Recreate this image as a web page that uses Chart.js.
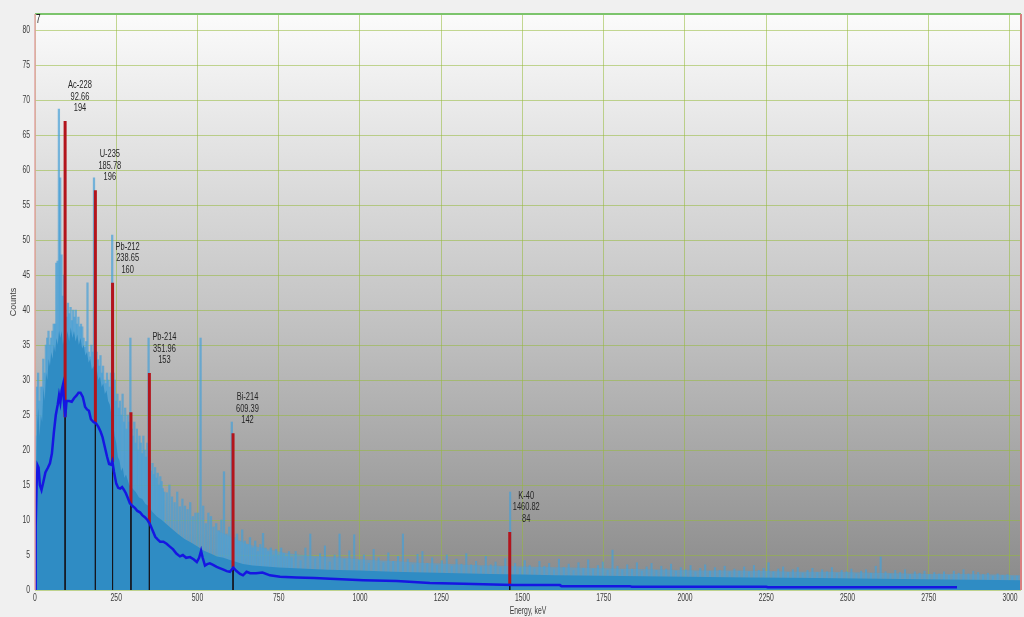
<!DOCTYPE html>
<html>
<head>
<meta charset="utf-8">
<script src="https://cdn.jsdelivr.net/npm/chart.js@4.4.0/dist/chart.umd.min.js"></script>
<style>
  html, body { margin: 0; padding: 0; background: #f0f0f0; }
  #wrap { width: 1024px; height: 617px; position: relative; }
</style>
</head>
<body>
<div id="wrap"><canvas id="spectrum"></canvas></div>
<script>
// --- spectrum channels (keV) and counts ---
const lowE = [0,4,8,12,16,20,24,28,32,36,40,44,48,52,56,60,64,68,72,76,80,84,88,92,96,100,104,108,112,116,120,124,128,132,136,140,144,148,152,156,160,164,168,172,176,180,184,188,192,196,200,204,208,212,216,220,224,228,232,236,240,244,248,252,256,260,264,268,272,276,280,284,288,292,296,300,304,308,312,316,320,324,328,332,336,340,344,348,352,356,360,364,368,372,376,380,384,388,392,396];
const lowCounts = [3,22,29,31,27,29,29,33,31,35, 36,37,35,36,37,38,38,46.7,47,68.7, 58.9,47.9,42,45,40,39,41,39.5,40.4,38.5, 40,39,40,38,39,37.6,38,37.6,36,34.7, 35.5,43.9,34,33.3,35,34,58.9,33,34,32.9, 32,33.5,31,32,30,29.5,31,30,29,31, 50.7,31,30,27,28,26,27,25,28,24, 26,23,25,24,36,23,22,24,21,23, 20,22,21,19.5,22,20,19,21,36,18.5, 17,18.1,16.5,17.5,16,16.7,15,16.2,15.5,14.5];

const midE = [400,408,416,424,432,440,448,456,464,472,480,488,496,504,512,520,528,536,544,552,560,568,576,584,592,600,608,616,624,632,640,648,656,664,672,680,688,696,704,712,720,728,736,744,752,760,768,776,784,792];
const midCounts = [14,13.9,15,13.3,12.5,14,11.9,13,12,11.5, 12.5,10.5,11,11,36,12,9.5,11,10.5,9, 9.5,8.5,10,16.9,8,9,24,7.5,8,7, 8.6,7,6.5,7.5,6,7,5.5,6.5,8.1,6, 5.5,6,5,5.8,5,6,5.2,4.8,5.5,4.6];

const highE = [800,815,830,845,860,875,890,905,920,935,950,965,980,995,1010,1025,1040,1055,1070,1085,1100,1115,1130,1145,1160,1175,1190,1205,1220,1235,1250,1265,1280,1295,1310,1325,1340,1355,1370,1385,1400,1415,1430,1445,1460,1475,1490,1505,1520,1535,1550,1565,1580,1595,1610,1625,1640,1655,1670,1685,1700,1715,1730,1745,1760,1775,1790,1805,1820,1835,1850,1865,1880,1895,1910,1925,1940,1955,1970,1985,2000,2015,2030,2045,2060,2075,2090,2105,2120,2135,2150,2165,2180,2195,2210,2225,2240,2255,2270,2285,2300,2315,2330,2345,2360,2375,2390,2405,2420,2435,2450,2465,2480,2495,2510,2525,2540,2555,2570,2585,2600,2615,2630,2645,2660,2675,2690,2705,2720,2735,2750,2765,2780,2795,2810,2825,2840,2855,2870,2885,2900,2915,2930,2945,2960,2975,2990,3005,3020];
const highCounts = [5.5,4.2,6.0,8.0,4.5,5.2,6.3,4.0,5.0,8.0, 4.4,5.6,7.9,4.2,5.0,3.8,5.8,4.6,3.9,5.3, 4.1,4.8,8.0,4.4,3.6,5.1,5.5,3.8,4.6,3.5, 4.2,5.0,3.4,4.4,3.7,5.2,3.6,4.1,3.3,4.8, 3.6,4.0,3.2,4.5,14,3.8,3.1,4.2,3.5,3.0, 4.1,3.4,3.8,2.9,4.4,3.2,3.7,2.8,3.9,3.1, 4.3,3.0,3.5,4.0,2.8,5.7,3.4,2.9,3.6,3.0, 3.9,2.7,3.3,3.8,2.8,3.4,3.0,3.7,2.7,3.2, 2.9,3.5,2.6,3.1,3.6,2.7,3.2,2.8,3.4,2.6, 3.0,2.7,3.3,2.6,3.5,2.8,3.1,3.9,2.6,3.0, 3.3,2.5,2.9,3.2,2.4,2.8,3.1,2.5,2.9,2.6, 3.2,2.4,2.8,2.6,3.0,2.3,2.7,2.9,2.4,3.4, 4.7,2.6,2.3,2.8,2.5,2.9,2.2,2.6,2.4,2.7, 2.2,2.5,2.3,2.6,2.1,2.7,2.4,2.9,2.3,2.7, 2.5,2.2,2.4,2.0,2.3,2.1,2.2,1.9,2.0];

// dense low-level fuzz of channels at higher energies
const fuzzE = [560,600,640,680,720,760,800,850,900,950,1000,1060,1120,1180,1250,1320,1400,1480,1560,1650,1750,1850,1950,2050,2150,2250,2350,2450,2550,2650,2750,2850,2950,3034];
const fuzzCounts = [8.5,7.6,6.8,6.2,5.8,5.4,5.1,4.9,4.7,4.6,4.4,4.2,4.1,3.9,3.8,3.6,3.5,3.4,3.3,3.2,3.1,3.0,2.9,2.8,2.8,2.7,2.6,2.6,2.5,2.4,2.3,2.3,2.2,2.1];

// solid part of the spectrum (where nearly every channel reaches)
const baseE = [0,2,4,7,10,14,18,22,26,30,34,38,42,46,50,54,58,62,66,70,74,78,82,86,90,95,100,105,110,115,120,125,130,135,140,145,150,155,160,165,170,175,180,185,190,195,200,205,210,215,220,225,230,235,240,245,250,255,260,265,270,275,280,290,300,310,320,330,340,350,360,375,390,405,420,440,460,480,500,520,540,560,580,600,620,640,670,700,750,800,850,900,1000,1100,1200,1300,1400,1500,1600,1800,2000,2200,2400,2600,2800,3034];
const baseCounts = [0,8,18,24,26, 22,25,24,29,27, 31,30,33,32,34, 33,35,34,36,35, 37,36,37,35,36, 35,37,35.5,37.5,36, 37,35.5,36.5,35,36, 34.5,35,33.5,34,32.5, 33,31.5,32,30.5,31.5, 30,30.5,29,29.5,28, 28.5,27,26.5,25,24, 22,21,19,18.5,17, 17.5,16,16.5,15,14.5, 14,13.2,13,12.3,12, 11.2,10.5,10,9.4,8.8, 8,7.3,6.8,6.2,5.6, 5.2,4.8,4.6,4.3,4, 3.7,3.5,3.4,3.2,3.1, 3,2.9,2.8,2.6,2.5, 2.4,2.3,2.2,2.1,2, 1.9,1.8,1.7,1.6,1.5, 1.4];

// smoothed continuum (dark blue)
const smoothE = [0,2,5,8,11,15,20,26,32,40,46,52,58,64,70,74,78,82,86,89,93,97,105,113,120,128,134,140,147,154,160,166,172,180,188,195,202,208,215,222,228,234,238,243,250,256,262,268,274,280,286,292,300,308,315,323,330,338,346,354,362,370,378,385,395,405,415,425,435,446,455,465,477,488,498,505,511,516,523,530,538,548,559,570,580,590,600,610,620,631,640,651,662,680,700,723,754,805,860,908,1010,1113,1215,1318,1471,1615,1620,1831,1836,2250,2255,2837];
const smoothCounts = [0,9,15,17.8,17.5,15,14.3,15.5,16.8,17.5,18.1,19.5,22.5,25,26.5,27.8,26.8,28.5,29.3,27,24.7,27,27,26.9,27.4,27.8,28.2,28.2,27.6,26.2,25.8,25.6,24.4,24,23.8,23.3,22.6,21.8,20.4,19,18,17.9,18.4,16.9,15.2,14.6,14.5,14.7,14.3,13.8,13.1,12.4,12,11.7,11.3,11.1,10.7,10.4,10,9.4,8.5,7.6,7.2,6.9,6.9,6.6,6.2,5.8,5.2,4.8,5,4.6,4.7,4.4,4,4.6,5.6,4.6,3.5,3.7,3.8,3.6,3.3,3.1,2.9,2.7,2.6,3.2,2.7,2.3,2.1,2.6,2.4,2.4,2.5,2.1,1.9,1.8,1.7,1.6,1.4,1.3,1,0.9,0.7,0.7,0.55,0.55,0.45,0.45,0.4,0.4];

// identified peaks
const peakEnergy = [92.66, 185.78, 238.65, 295.22, 351.96, 609.39, 1460.82];
const peakTop = [67, 57.1, 43.9, 25.4, 31, 22.4, 8.3];
const peakBase = [24.7, 23.9, 18.3, 12.3, 9.5, 3.2, 0.7];
const peakNuclide = ['Ac-228', 'U-235', 'Pb-212', null, 'Pb-214', 'Bi-214', 'K-40'];
const peakLabelEnergy = ['92.66', '185.78', '238.65', null, '351.96', '609.39', '1460.82'];
const peakChannel = ['194', '196', '160', null, '153', '142', '84'];

const xTicks = [0,250,500,750,1000,1250,1500,1750,2000,2250,2500,2750,3000];
const yTicks = [0,5,10,15,20,25,30,35,40,45,50,55,60,65,70,75,80];

const FONT = '"Liberation Sans", Arial, sans-serif';
const SQUASH = 0.68;

const toPts = (xs, ys) => xs.map((x, i) => ({ x: x, y: ys[i] }));

function segmentPts(xs, y1, y2) {
    const pts = [];
    xs.forEach((x, i) => {
        pts.push({ x: x, y: y1[i] }, { x: x, y: y2[i] }, { x: x, y: null });
    });
    return pts;
}

function squashText(ctx, txt, x, y, align) {
    ctx.save();
    ctx.translate(x, y);
    ctx.scale(SQUASH, 1);
    ctx.textAlign = align;
    ctx.fillText(txt, 0, 0);
    ctx.restore();
}

// fondo degradado del área de trazado
const backdrop = {
    id: 'backdrop',
    beforeDraw(chart) {
        const { ctx, chartArea: a } = chart;
        ctx.save();
        ctx.fillStyle = '#f0f0f0';
        ctx.fillRect(0, 0, chart.width, chart.height);
        const g = ctx.createLinearGradient(0, a.top, 0, a.bottom);
        g.addColorStop(0, '#fbfbfb');
        g.addColorStop(0.5, '#c6c6c6');
        g.addColorStop(1, '#8a8a8a');
        ctx.fillStyle = g;
        ctx.fillRect(a.left, a.top, a.right - a.left, a.bottom - a.top);
        ctx.restore();
    }
};

// bordes, textos de ejes y etiquetas de picos
const overlay = {
    id: 'overlay',
    afterDraw(chart) {
        const { ctx, chartArea: a, scales } = chart;
        ctx.save();
        // frame
        ctx.lineWidth = 2;
        ctx.strokeStyle = '#7cc46c';
        ctx.beginPath(); ctx.moveTo(a.left, a.top); ctx.lineTo(a.right, a.top); ctx.stroke();
        ctx.strokeStyle = '#e2a4a4';
        ctx.lineWidth = 1.5;
        ctx.beginPath(); ctx.moveTo(a.left, a.top); ctx.lineTo(a.left, a.bottom); ctx.stroke();
        ctx.strokeStyle = '#d98080';
        ctx.lineWidth = 2;
        ctx.beginPath(); ctx.moveTo(a.right, a.top); ctx.lineTo(a.right, a.bottom); ctx.stroke();

        // tick labels
        ctx.fillStyle = '#3a3a3a';
        ctx.font = '10px ' + FONT;
        ctx.textBaseline = 'middle';
        scales.y.ticks.forEach(t => {
            squashText(ctx, String(t.value), a.left - 5, scales.y.getPixelForValue(t.value), 'right');
        });
        scales.x.ticks.forEach(t => {
            squashText(ctx, String(t.value), scales.x.getPixelForValue(t.value), a.bottom + 8, 'center');
        });

        // axis titles
        ctx.font = '10px ' + FONT;
        squashText(ctx, 'Energy, keV', (a.left + a.right) / 2, a.bottom + 21, 'center');
        ctx.save();
        ctx.translate(14, (a.top + a.bottom) / 2);
        ctx.rotate(-Math.PI / 2);
        ctx.textAlign = 'center';
        ctx.font = '9px ' + FONT;
        ctx.fillText('Counts', 0, 0);
        ctx.restore();

        ctx.font = '12px ' + FONT;
        ctx.fillStyle = '#222';
        squashText(ctx, '7', a.left + 1, a.top + 6, 'left');

        // peak labels
        ctx.font = '11px ' + FONT;
        ctx.fillStyle = '#262626';
        peakEnergy.forEach((e, i) => {
            if (!peakNuclide[i]) return;
            const lines = [peakNuclide[i], peakLabelEnergy[i], peakChannel[i]];
            const px = scales.x.getPixelForValue(e);
            const py = scales.y.getPixelForValue(peakTop[i]);
            const w = Math.max(...lines.map(l => ctx.measureText(l).width)) * SQUASH;
            const cx = px + 3 + w / 2;
            lines.forEach((l, j) => {
                squashText(ctx, l, cx, py - 13 - 11.5 * (2 - j), 'center');
            });
        });
        ctx.restore();
    }
};

const gridColor = 'rgba(150, 185, 60, 0.55)';
const spikeColor = 'rgba(70, 160, 215, 0.7)';

new Chart(document.getElementById('spectrum'), {
    type: 'bar',
    data: {
        datasets: [
            {
                type: 'line', label: 'Smoothed',
                data: toPts(smoothE, smoothCounts),
                borderColor: '#1616e2', borderWidth: 2.5,
                pointRadius: 0, tension: 0, order: 1
            },
            {
                type: 'line', label: 'Peaks',
                data: segmentPts(peakEnergy, peakTop, peakBase),
                borderColor: '#b3141c', borderWidth: 3,
                pointRadius: 0, order: 2
            },
            {
                type: 'line', label: 'Markers',
                data: segmentPts(peakEnergy, peakBase, peakEnergy.map(() => 0)),
                borderColor: '#16161e', borderWidth: 1,
                pointRadius: 0, order: 3
            },
            {
                type: 'line', label: 'Continuum',
                data: toPts(baseE, baseCounts),
                fill: 'origin', backgroundColor: '#2f8cc4',
                borderWidth: 0, pointRadius: 0, tension: 0, order: 4
            },
            {
                type: 'line', label: 'Fuzz',
                data: toPts(fuzzE, fuzzCounts),
                fill: 'origin', backgroundColor: 'rgba(75, 162, 215, 0.5)',
                borderWidth: 0, pointRadius: 0, tension: 0, order: 5
            },
            {
                type: 'bar', label: 'Spectrum',
                data: toPts(lowE.concat(midE), lowCounts.concat(midCounts)),
                backgroundColor: spikeColor,
                barThickness: 1.6, order: 6
            },
            {
                type: 'bar', label: 'Spectrum high',
                data: toPts(highE, highCounts),
                backgroundColor: spikeColor,
                barThickness: 1.4, order: 7
            }
        ]
    },
    options: {
        responsive: true,
        maintainAspectRatio: false,
        animation: false,
        devicePixelRatio: 1,
        layout: { padding: { left: 0, right: 3, top: 14, bottom: 0 } },
        plugins: { legend: { display: false }, tooltip: { enabled: false } },
        scales: {
            x: {
                type: 'linear', min: 0, max: 3034, offset: false, z: 1,
                afterFit: s => { s.height = 27; },
                afterBuildTicks: s => { s.ticks = xTicks.map(v => ({ value: v })); },
                grid: { color: gridColor, offset: false, drawTicks: false },
                border: { display: false },
                ticks: { display: false }
            },
            y: {
                type: 'linear', min: 0, max: 82.3, z: 1,
                afterFit: s => { s.width = 35; },
                afterBuildTicks: s => { s.ticks = yTicks.map(v => ({ value: v })); },
                grid: { color: gridColor, drawTicks: false },
                border: { display: false },
                ticks: { display: false }
            }
        }
    },
    plugins: [backdrop, overlay]
});
</script>
</body>
</html>
